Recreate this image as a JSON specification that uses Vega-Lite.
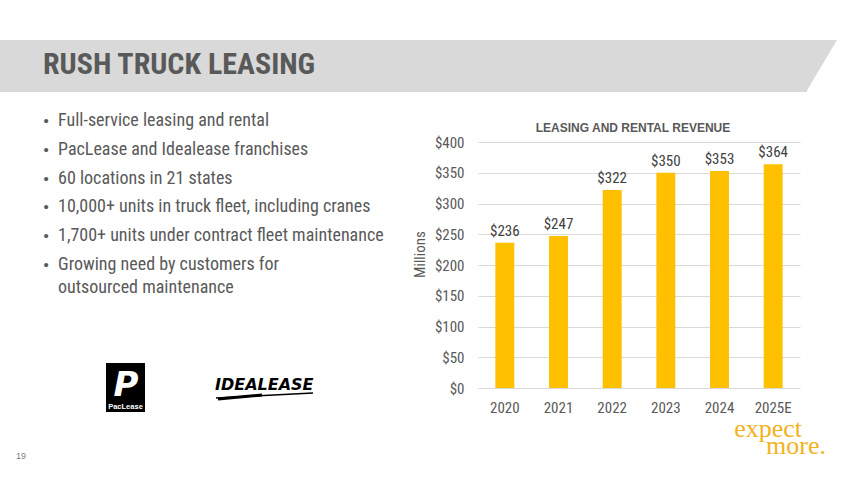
{
  "$schema": "https://vega.github.io/schema/vega-lite/v6.json",
  "padding": 0,
  "background": "white",
  "autosize": {"type": "pad"},
  "bounds": "flush",
  "spacing": 0,
  "config": {"view": {"stroke": null}, "font": "Liberation Sans"},
  "hconcat": [
    {
      "width": 478,
      "height": 246,
      "layer": [
        {
          "data": {"values": [{}]},
          "layer": [
            {
              "mark": {"type": "rect", "color": "#ffffff"},
              "encoding": {
                "x": {"datum": 0, "type": "quantitative", "scale": {"domain": [0, 478], "nice": false, "zero": false}, "axis": null},
                "x2": {"datum": 850},
                "y": {"datum": 0, "type": "quantitative", "scale": {"domain": [142, 388], "reverse": true, "nice": false, "zero": false}, "axis": null},
                "y2": {"datum": 478}
              }
            },
            {
              "mark": {"type": "rect", "color": "#d9d9d9"},
              "encoding": {
                "x": {"datum": 0, "type": "quantitative", "scale": {"domain": [0, 478], "nice": false, "zero": false}, "axis": null},
                "x2": {"datum": 807},
                "y": {"datum": 40, "type": "quantitative", "scale": {"domain": [142, 388], "reverse": true, "nice": false, "zero": false}, "axis": null},
                "y2": {"datum": 92}
              }
            },
            {
              "mark": {"type": "point", "shape": "M-1,0L31,0L0,52L-1,52Z", "size": 4, "filled": true, "opacity": 1, "color": "#d9d9d9", "strokeWidth": 0},
              "encoding": {
                "x": {"datum": 806, "type": "quantitative", "scale": {"domain": [0, 478], "nice": false, "zero": false}, "axis": null},
                "y": {"datum": 40, "type": "quantitative", "scale": {"domain": [142, 388], "reverse": true, "nice": false, "zero": false}, "axis": null}
              }
            },
            {
              "mark": {"type": "text", "text": "RUSH TRUCK LEASING", "align": "left", "baseline": "alphabetic", "font": "Roboto Condensed, Liberation Sans", "fontWeight": "bold", "fontSize": 30, "color": "#595959"},
              "encoding": {
                "x": {"datum": 43, "type": "quantitative", "scale": {"domain": [0, 478], "nice": false, "zero": false}, "axis": null},
                "y": {"datum": 74, "type": "quantitative", "scale": {"domain": [142, 388], "reverse": true, "nice": false, "zero": false}, "axis": null}
              }
            },
            {
              "mark": {"type": "rect", "color": "#000000"},
              "encoding": {
                "x": {"datum": 106, "type": "quantitative", "scale": {"domain": [0, 478], "nice": false, "zero": false}, "axis": null},
                "x2": {"datum": 145},
                "y": {"datum": 363, "type": "quantitative", "scale": {"domain": [142, 388], "reverse": true, "nice": false, "zero": false}, "axis": null},
                "y2": {"datum": 412}
              }
            },
            {
              "mark": {"type": "text", "text": "P", "align": "center", "baseline": "alphabetic", "font": "DejaVu Sans", "fontWeight": "bold", "fontStyle": "italic", "fontSize": 34, "color": "#ffffff"},
              "encoding": {
                "x": {"datum": 126, "type": "quantitative", "scale": {"domain": [0, 478], "nice": false, "zero": false}, "axis": null},
                "y": {"datum": 396, "type": "quantitative", "scale": {"domain": [142, 388], "reverse": true, "nice": false, "zero": false}, "axis": null}
              }
            },
            {
              "mark": {"type": "text", "text": "PacLease", "align": "center", "baseline": "alphabetic", "font": "Liberation Sans", "fontWeight": "bold", "fontSize": 7.5, "color": "#ffffff"},
              "encoding": {
                "x": {"datum": 125.5, "type": "quantitative", "scale": {"domain": [0, 478], "nice": false, "zero": false}, "axis": null},
                "y": {"datum": 409, "type": "quantitative", "scale": {"domain": [142, 388], "reverse": true, "nice": false, "zero": false}, "axis": null}
              }
            },
            {
              "mark": {"type": "text", "text": "IDEALEASE", "align": "left", "baseline": "alphabetic", "font": "DejaVu Sans", "fontWeight": "bold", "fontStyle": "italic", "fontSize": 16, "color": "#000000"},
              "encoding": {
                "x": {"datum": 215, "type": "quantitative", "scale": {"domain": [0, 478], "nice": false, "zero": false}, "axis": null},
                "y": {"datum": 390, "type": "quantitative", "scale": {"domain": [142, 388], "reverse": true, "nice": false, "zero": false}, "axis": null}
              }
            },
            {
              "mark": {"type": "rule", "color": "#000000", "strokeWidth": 1.5},
              "encoding": {
                "x": {"datum": 216, "type": "quantitative", "scale": {"domain": [0, 478], "nice": false, "zero": false}, "axis": null},
                "x2": {"datum": 313},
                "y": {"datum": 398, "type": "quantitative", "scale": {"domain": [142, 388], "reverse": true, "nice": false, "zero": false}, "axis": null},
                "y2": {"datum": 393}
              }
            },
            {
              "mark": {"type": "rule", "color": "#000000", "strokeWidth": 3},
              "encoding": {
                "x": {"datum": 218, "type": "quantitative", "scale": {"domain": [0, 478], "nice": false, "zero": false}, "axis": null},
                "x2": {"datum": 262},
                "y": {"datum": 399, "type": "quantitative", "scale": {"domain": [142, 388], "reverse": true, "nice": false, "zero": false}, "axis": null},
                "y2": {"datum": 395}
              }
            },
            {
              "mark": {"type": "text", "text": "19", "align": "left", "baseline": "alphabetic", "font": "Liberation Sans", "fontSize": 9, "color": "#7f7f7f"},
              "encoding": {
                "x": {"datum": 16, "type": "quantitative", "scale": {"domain": [0, 478], "nice": false, "zero": false}, "axis": null},
                "y": {"datum": 459, "type": "quantitative", "scale": {"domain": [142, 388], "reverse": true, "nice": false, "zero": false}, "axis": null}
              }
            },
            {
              "mark": {"type": "text", "text": "expect", "align": "right", "baseline": "alphabetic", "font": "Liberation Serif", "fontSize": 26, "color": "#F2B21B"},
              "encoding": {
                "x": {"datum": 802, "type": "quantitative", "scale": {"domain": [0, 478], "nice": false, "zero": false}, "axis": null},
                "y": {"datum": 437, "type": "quantitative", "scale": {"domain": [142, 388], "reverse": true, "nice": false, "zero": false}, "axis": null}
              }
            },
            {
              "mark": {"type": "text", "text": "more.", "align": "right", "baseline": "alphabetic", "font": "Liberation Serif", "fontSize": 26, "color": "#F2B21B"},
              "encoding": {
                "x": {"datum": 826, "type": "quantitative", "scale": {"domain": [0, 478], "nice": false, "zero": false}, "axis": null},
                "y": {"datum": 454, "type": "quantitative", "scale": {"domain": [142, 388], "reverse": true, "nice": false, "zero": false}, "axis": null}
              }
            }
          ]
        },
        {
          "data": {
            "values": [
              {"n": 1, "text": "Full-service leasing and rental"},
              {"n": 2, "text": "PacLease and Idealease franchises"},
              {"n": 3, "text": "60 locations in 21 states"},
              {"n": 4, "text": "10,000+ units in truck fleet, including cranes"},
              {"n": 5, "text": "1,700+ units under contract fleet maintenance"},
              {"n": 6, "text": "Growing need by customers for\noutsourced maintenance"}
            ]
          },
          "encoding": {
            "y": {"field": "n", "type": "quantitative", "scale": {"domain": [1, 6], "range": [-16, 128], "nice": false, "zero": false}, "axis": null}
          },
          "layer": [
            {
              "mark": {"type": "text", "text": "•", "align": "center", "baseline": "alphabetic", "font": "Liberation Sans", "fontSize": 15, "color": "#595959"},
              "encoding": {
                "x": {"datum": 46, "type": "quantitative", "scale": {"domain": [0, 478], "nice": false, "zero": false}, "axis": null}
              }
            },
            {
              "mark": {"type": "text", "align": "left", "baseline": "alphabetic", "font": "Roboto Condensed, Liberation Sans", "fontSize": 18, "color": "#595959", "lineBreak": "\n", "lineHeight": 23},
              "encoding": {
                "x": {"datum": 58, "type": "quantitative", "scale": {"domain": [0, 478], "nice": false, "zero": false}, "axis": null},
                "text": {"field": "text"}
              }
            }
          ]
        }
      ],
      "resolve": {"scale": {"y": "independent"}}
    },
    {
      "width": 322,
      "height": 246,
      "title": {"text": "LEASING AND RENTAL REVENUE", "fontSize": 12, "fontWeight": "bold", "color": "#595959", "font": "Liberation Sans", "offset": 0, "dy": 0, "dx": -6, "anchor": "middle"},
      "data": {
        "values": [
          {"year": "2020", "revenue": 236},
          {"year": "2021", "revenue": 247},
          {"year": "2022", "revenue": 322},
          {"year": "2023", "revenue": 350},
          {"year": "2024", "revenue": 353},
          {"year": "2025E", "revenue": 364}
        ]
      },
      "encoding": {
        "x": {
          "field": "year", "type": "nominal", "sort": null,
          "scale": {"paddingInner": 0.647, "paddingOuter": 0.3235},
          "axis": {"title": null, "labelAngle": 0, "domain": false, "ticks": false, "labelPadding": 12, "labelFontSize": 15, "labelFont": "Roboto Condensed, Liberation Sans", "labelColor": "#595959"}
        },
        "y": {
          "field": "revenue", "type": "quantitative",
          "scale": {"domain": [0, 400], "nice": false},
          "axis": {
            "values": [0, 50, 100, 150, 200, 250, 300, 350, 400],
            "labelExpr": "'$' + datum.value",
            "grid": true, "gridColor": "#d9d9d9", "gridWidth": 1,
            "domain": false, "ticks": false, "labelPadding": 14,
            "labelFontSize": 15, "labelFont": "Roboto Condensed, Liberation Sans", "labelColor": "#595959",
            "title": "Millions", "titleFontSize": 15, "titleFontWeight": "normal", "titleFont": "Roboto Condensed, Liberation Sans", "titleColor": "#595959", "titlePadding": 7, "titleY": 112
          }
        }
      },
      "layer": [
        {"mark": {"type": "bar", "color": "#FFC000"}},
        {
          "mark": {"type": "text", "baseline": "alphabetic", "dy": -7, "fontSize": 15, "font": "Roboto Condensed, Liberation Sans", "color": "#404040"},
          "encoding": {"text": {"field": "revenue", "type": "quantitative", "format": "$d"}}
        }
      ]
    }
  ]
}
